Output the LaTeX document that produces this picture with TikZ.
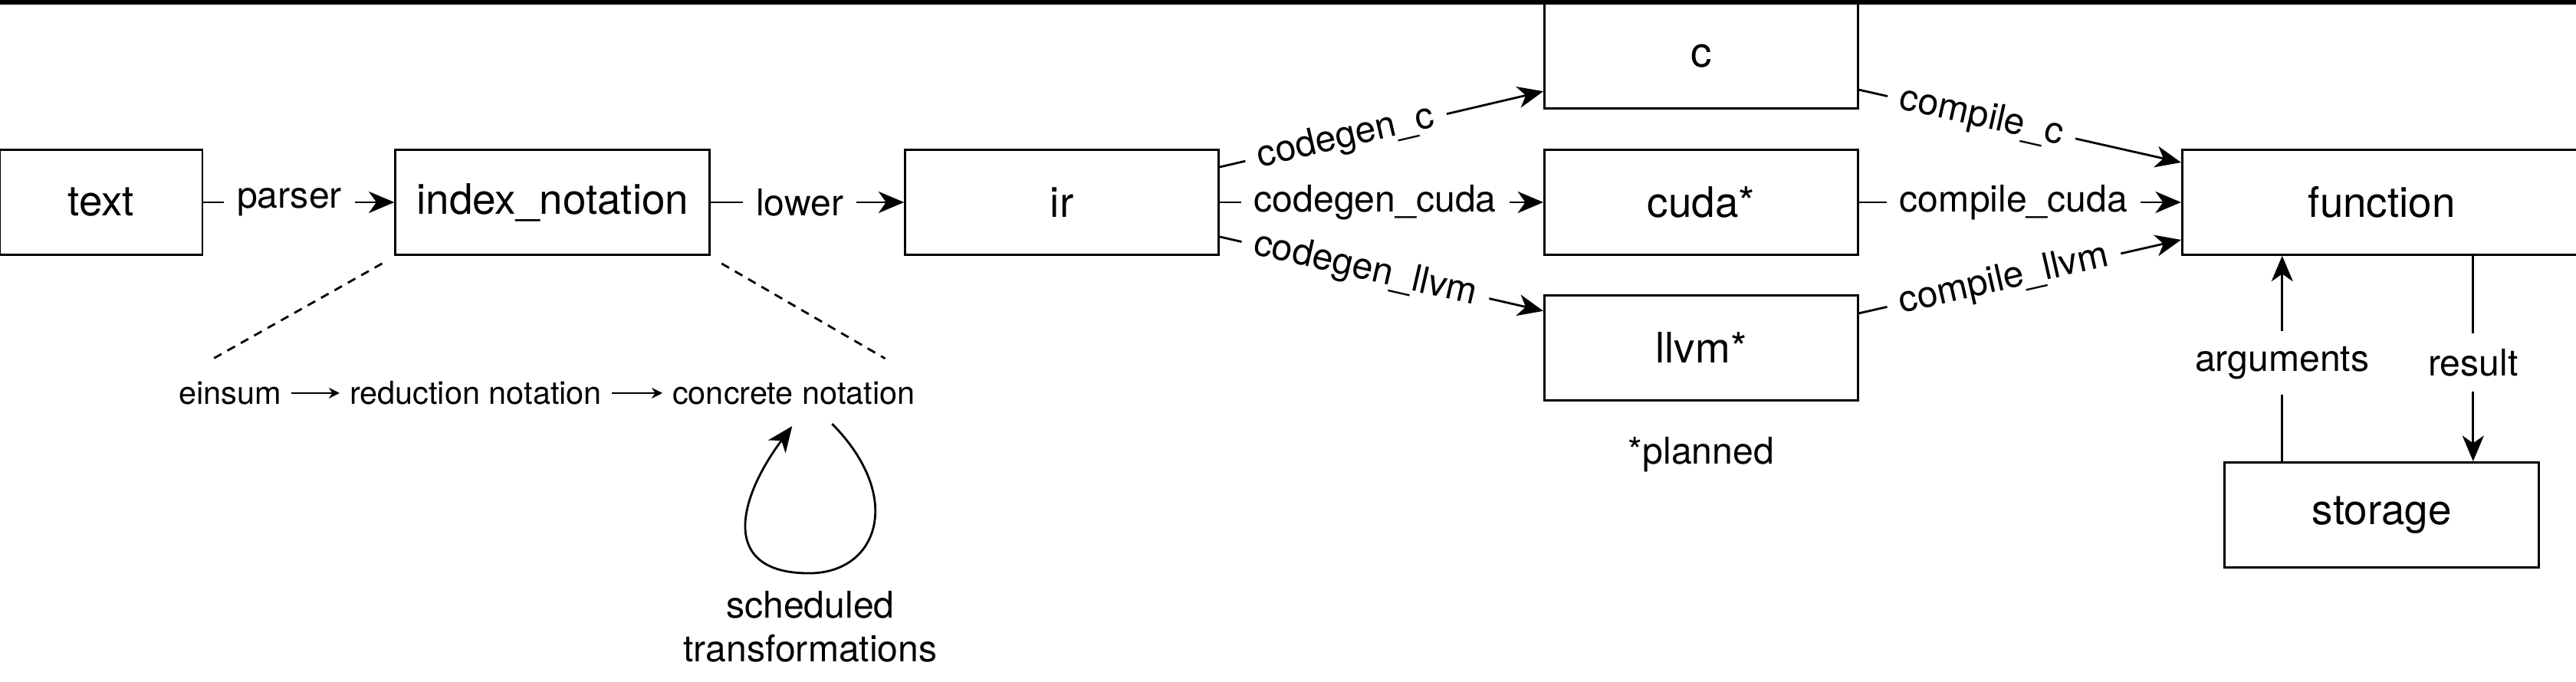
\documentclass[tikz,border=0pt]{standalone}
\usepackage{fontspec}
\setmainfont{TeX Gyre Heros}
\usetikzlibrary{arrows.meta}
\usetikzlibrary{positioning}

\begin{document}
\begin{tikzpicture}[
        line width=0.8pt,
        >={Stealth[length=9.5pt,width=8pt,inset=2.8pt]},
        box/.style={draw, minimum height=1.37cm, font=\fontsize{15.6}{18}\selectfont},
        lbl/.style={fill=white, inner xsep=0.17cm, inner ysep=0.2cm, font=\fontsize{13.7}{16.2}\selectfont},
        txt/.style={font=\fontsize{13.7}{16.2}\selectfont},
        sub/.style={font=\fontsize{11.8}{14}\selectfont}
    ]
        \useasboundingbox (0,0) rectangle (33.6,8.9);
        \fill (0,8.84) rectangle (33.6,8.9);
        \node[box, minimum width=2.64cm] (T) at (1.32,6.26) {text};
        \node[box, minimum width=4.10cm, right=2.49cm of T] (IDX) {index\_notation};
        \node[box, minimum width=4.09cm, right=2.52cm of IDX] (IR) {ir};
        \node[box, minimum width=4.09cm, right=4.22cm of IR] (CU) {cuda*};
        \node[box, minimum width=4.09cm, above=0.51cm of CU] (C) {c};
        \node[box, minimum width=4.09cm, below=0.50cm of CU] (LL) {llvm*};
        \node[box, minimum width=5.21cm, right=4.20cm of CU] (F) {function};
        \node[box, minimum width=4.10cm, below=2.68cm of F] (S) {storage};
        \node[txt, below=0.34cm of LL] (P) {*planned};
        \node[sub] (E) at (3.00,3.77) {einsum};
        \node[sub, right=0.63cm of E] (R) {reduction notation};
        \node[sub, right=0.66cm of R] (CN) {concrete notation};
        \node[txt, align=center] (ST) at (10.57,0.72) {scheduled\\transformations};
        \coordinate (AB) at ([xshift=-1.30cm]S.north);
        \coordinate (AT) at (AB |- F.south);
        \coordinate (RB) at ([xshift=1.19cm]S.north);
        \coordinate (RT) at (RB |- F.south);
        \path[->]
            (T) edge node[lbl, pos=0.45] {parser} (IDX)
            (IDX) edge node[lbl, pos=0.46] {lower} (IR)
            ([yshift=.46cm]IR.east) edge node[lbl, sloped, pos=0.39] {codegen\_c} ([yshift=-.46cm]C.west)
            (IR) edge node[lbl, pos=0.48] {codegen\_cuda} (CU)
            ([yshift=-.45cm]IR.east) edge node[lbl, sloped, pos=0.45] {codegen\_llvm} ([yshift=.48cm]LL.west)
            ([yshift=-.44cm]C.east) edge node[lbl, sloped, pos=0.38] {compile\_c} ([yshift=.52cm]F.west)
            (CU) edge node[lbl, pos=0.48] {compile\_cuda} (F)
            ([yshift=.45cm]LL.east) edge node[lbl, sloped, pos=0.45] {compile\_llvm} ([yshift=-.49cm]F.west)
            (AB) edge node[lbl, pos=0.48] {arguments} (AT)
            (RT) edge node[lbl, pos=0.52] {result} (RB);
        \path[->, line width=0.5pt, >={Stealth[length=4pt,width=4pt]}]
            (E) edge (R)
            (R) edge (CN);
        \draw[dash pattern=on 3.2pt off 2.5pt] ([shift={(-.16,-.10)}]IDX.south west) -- ([shift={(.53,.14)}]E.north west);
        \draw[dash pattern=on 3.2pt off 2.5pt] ([shift={(.14,-.10)}]IDX.south east) -- ([shift={(-.52,.17)}]CN.north east);
        \draw[->] ([shift={(.50,-.12)}]CN.south) .. controls +(.95,-.96) and +(.90,0) .. ++(-.30,-1.95)
            .. controls +(-1.15,0) and +(-.73,-.98) .. ([shift={(-.02,-.15)}]CN.south);
    \end{tikzpicture}
\end{document}
